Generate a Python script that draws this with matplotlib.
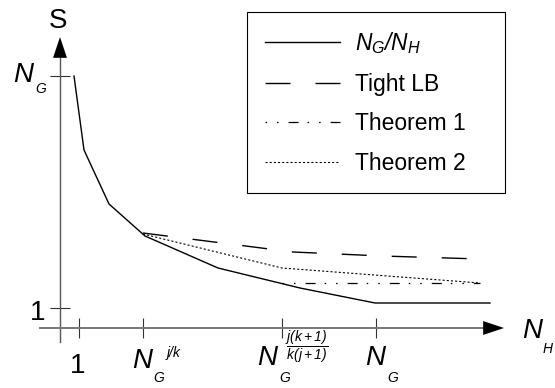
import matplotlib
matplotlib.use("Agg")
import matplotlib.pyplot as plt

plt.rcParams["font.family"] = "Liberation Sans"
plt.rcParams["mathtext.fontset"] = "custom"
plt.rcParams["mathtext.it"] = "Liberation Sans:italic"
plt.rcParams["mathtext.rm"] = "Liberation Sans:italic"
plt.rcParams["lines.scale_dashes"] = False

# schematic curves (arbitrary units, origin at the axes crossing)
ratio_x = [14, 24, 49, 85, 158, 240, 315, 430]
ratio_y = [252, 178, 124, 92, 60, 40, 25, 25]
tight_x = [83, 233, 322, 420]
tight_y = [95, 76, 72, 69]
thm1_x = [222, 420]
thm1_y = [45, 45]
thm2_x = [83, 222, 420]
thm2_y = [94, 60, 45]

labels = [r"$N_G/N_H$", "Tight LB", "Theorem 1", "Theorem 2"]

# tick positions
xticks = [19, 83, 222, 316]
yticks = [20, 252]

fig = plt.figure(figsize=(5.55, 3.88), dpi=100)
ax = fig.add_axes([0, 0, 1, 1])
ax.set_xlim(-60, 495)
ax.set_ylim(-60, 328)

ax.plot(ratio_x, ratio_y, color="black", lw=1.0, label=labels[0])
ax.plot(tight_x, tight_y, color="black", lw=1.0, dashes=(18, 18), label=labels[1])
ax.plot(thm1_x, thm1_y, color="black", lw=0.9,
        dashes=(1.1, 7.2, 1.1, 7.2, 7.2, 6.5), label=labels[2])
ax.plot(thm2_x, thm2_y, color="black", lw=0.8, dashes=(1.5, 1.5), label=labels[3])

# axes with arrow heads
for s in ["top", "right"]:
    ax.spines[s].set_visible(False)
ax.spines["left"].set_position(("data", 0))
ax.spines["bottom"].set_position(("data", 0))
ax.spines["left"].set_bounds(-14, 270)
ax.spines["bottom"].set_bounds(-20, 423)
ax.spines["left"].set_color("#555555")
ax.spines["bottom"].set_color("#777777")
ax.spines["left"].set_linewidth(1.0)
ax.spines["bottom"].set_linewidth(1.4)

arrow = dict(arrowstyle="-|>,head_length=1.5,head_width=0.5", mutation_scale=10,
             color="black", lw=0, shrinkA=0, shrinkB=0)
ax.annotate("", xy=(444, 0), xytext=(423, 0), arrowprops=arrow)
ax.annotate("", xy=(0, 291), xytext=(0, 270), arrowprops=arrow)

ax.set_xticks(xticks)
ax.set_yticks(yticks)
ax.tick_params(direction="inout", length=14, width=0.8, color="#333333",
               labelbottom=False, labelleft=False)

# labels
big = 20
small = 10


def n_label(x, y, sub, sup=None, dsub=(16, -10), dsup=(26, 8)):
    ax.text(x, y, "N", fontsize=big, style="italic", va="baseline")
    ax.annotate(sub, (x, y), xytext=dsub, textcoords="offset points",
                fontsize=small, style="italic", va="baseline")
    if sup is not None:
        ax.annotate(sup, (x, y), xytext=dsup, textcoords="offset points",
                    fontsize=small, style="italic", va="baseline")


ax.text(-2, 300, "S", fontsize=big, ha="center", va="baseline")
n_label(462, -10, "H", dsub=(15, -11))
n_label(-47, 246, "G", dsub=(16, -8))
ax.text(-15, 8, "1", fontsize=big, ha="right", va="baseline")
ax.text(18, -45, "1", fontsize=big, ha="center", va="baseline")
n_label(72, -40, "G", sup="j/k", dsub=(15, -10), dsup=(25, 8))
n_label(197, -37, "G", dsub=(16, -12))
ax.text(247, -19, r"$\dfrac{j(k+1)}{k(j+1)}$", fontsize=10, ha="center", va="center")
n_label(305, -37, "G", dsub=(16, -12))

leg = ax.legend(loc="upper left", bbox_to_anchor=(247 / 555, 0.2, 258 / 555, 1 - 12 / 388 - 0.2),
                bbox_transform=fig.transFigure, mode="expand", borderaxespad=0,
                fontsize=16.5, handlelength=3.25, handletextpad=0.65,
                labelspacing=0.72, borderpad=0.8, fancybox=False, framealpha=1,
                edgecolor="black")
leg.get_frame().set_linewidth(0.8)

fig.savefig("out.png", dpi=100)
